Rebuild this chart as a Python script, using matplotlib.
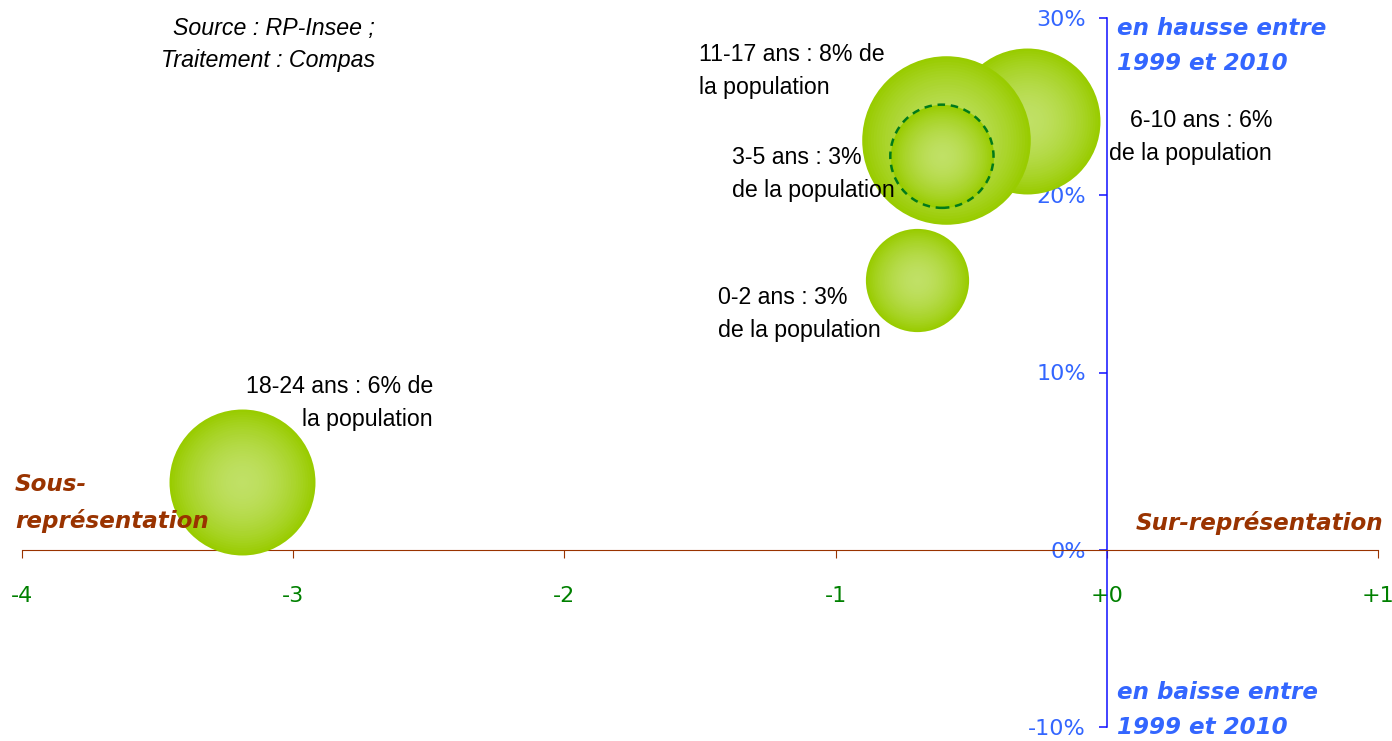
import numpy as np
import matplotlib.pyplot as plt
from matplotlib.colors import to_rgb
from matplotlib.ticker import FixedLocator

# bubble data: ecart de representation (x), evolution 1999-2010 (y), part de la population (%)
ages = ["18-24", "0-2", "6-10", "11-17", "3-5"]
ecart = [-3.19, -0.70, -0.295, -0.594, -0.608]
evolution = [0.038, 0.152, 0.242, 0.231, 0.222]
part_pop = [6, 3, 6, 8, 3]

xticks = [-4, -3, -2, -1, 0, 1]
xtick_labels = ["-4", "-3", "-2", "-1", "+0", "+1"]
yticks = [-0.10, 0.0, 0.10, 0.20, 0.30]
ytick_labels = ["-10%", "0%", "10%", "20%", "30%"]

W, H = 1392, 741
fig = plt.figure(figsize=(W / 100, H / 100), dpi=100)
ax = fig.add_axes([22 / W, 1 - 727 / H, (1378 - 22) / W, (727 - 18) / H])
ax.set_xlim(-4, 1)
ax.set_ylim(-0.10, 0.30)

brown = '#993300'
blue_txt = '#3366FF'
blue_axis = '#1010FF'
green = '#008000'

# axes crossing at zero
for s in ['top', 'right']:
    ax.spines[s].set_visible(False)
ax.spines['bottom'].set_position(('data', 0))
ax.spines['bottom'].set_color(brown)
ax.spines['left'].set_position(('data', 0))
ax.spines['left'].set_color(blue_axis)
ax.spines['left'].set_linewidth(1.1)
ax.xaxis.set_major_locator(FixedLocator(xticks))
ax.set_xticklabels(xtick_labels)
ax.yaxis.set_major_locator(FixedLocator(yticks))
ax.set_yticklabels(ytick_labels)
ax.tick_params(axis='x', direction='out', length=6, color=brown, labelcolor=green,
               labelsize=16, pad=20)
ax.tick_params(axis='y', direction='out', length=6, width=1.1, color=blue_axis,
               labelcolor=blue_txt, labelsize=16, pad=9)
for lab in ax.get_xticklabels() + ax.get_yticklabels():
    lab.set_fontfamily('DejaVu Sans')

# bubbles with a radial gradient (darker rim, lighter centre)
edge_c = np.array(to_rgb('#99CC00'))
centre_c = np.array(to_rgb('#C0E066'))
size_k = 1841  # pt^2 per % of population
n_layers = 30
for i, age in enumerate(ages):
    base = part_pop[i] * size_k
    for k in range(n_layers):
        r = 1 - k / n_layers
        t = 1 - r ** 1.8
        col = edge_c * (1 - t) + centre_c * t
        ax.scatter([ecart[i]], [evolution[i]], s=base * r ** 2, color=col,
                   linewidths=0, zorder=3 + i)
    if age == "3-5":
        ax.scatter([ecart[i]], [evolution[i]], s=base, facecolors='none',
                   edgecolors='#007A1A', linewidths=1.8, linestyles=(0, (3, 2.3)),
                   zorder=3 + i + 0.5)


def px(x, y):
    return x / W, 1 - y / H


lab_kw = dict(fontsize=16.7, family='Liberation Sans', color='black', linespacing=1.55)
fig.text(*px(699, 71), "11-17 ans : 8% de\nla population", ha='left', va='center', **lab_kw)
fig.text(*px(1272, 137), "6-10 ans : 6%\nde la population", ha='right', va='center',
         multialignment='right', **lab_kw)
fig.text(*px(732, 174), "3-5 ans : 3%\nde la population", ha='left', va='center', **lab_kw)
fig.text(*px(718, 314), "0-2 ans : 3%\nde la population", ha='left', va='center', **lab_kw)
fig.text(*px(433, 403), "18-24 ans : 6% de\nla population", ha='right', va='center',
         multialignment='right', **lab_kw)
fig.text(*px(375, 45), "Source : RP-Insee ;\nTraitement : Compas", ha='right', va='center',
         multialignment='right', style='italic', fontsize=16.7, family='Liberation Sans',
         linespacing=1.5, zorder=10)

bi_kw = dict(fontsize=16.6, family='DejaVu Sans', weight='bold', style='italic',
             linespacing=1.65)
fig.text(*px(1117, 46), "en hausse entre\n1999 et 2010", ha='left', va='center',
         color=blue_txt, **bi_kw)
fig.text(*px(1117, 710), "en baisse entre\n1999 et 2010", ha='left', va='center',
         color=blue_txt, **bi_kw)
fig.text(*px(1383, 523), "Sur-représentation", ha='right', va='center', color=brown, **bi_kw)
fig.text(*px(15, 503), "Sous-\nreprésentation", ha='left', va='center', color=brown,
         zorder=10, **bi_kw)

fig.savefig('out.png', dpi=100, facecolor='white')
